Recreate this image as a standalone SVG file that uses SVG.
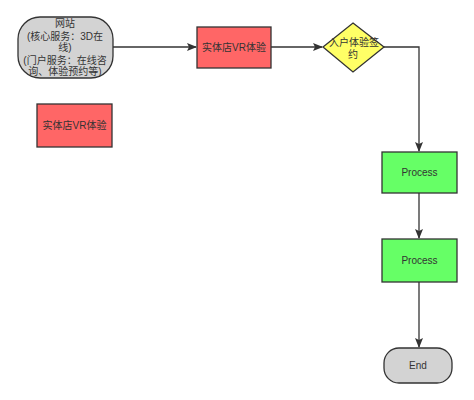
<svg xmlns="http://www.w3.org/2000/svg" width="474" height="400" viewBox="0 0 474 400">
<style>
.n{stroke:#333;stroke-width:1.3}
.t{font-family:"Liberation Sans","Noto Sans CJK SC",sans-serif;font-size:10px;fill:#333;text-anchor:middle}
.c{fill:none;stroke:#333;stroke-width:1.3}
</style>
<defs><marker id="a" markerWidth="10" markerHeight="8" refX="9" refY="4" orient="auto" markerUnits="userSpaceOnUse"><path d="M0,0 L10,4 L0,8 L2,4 z" fill="#333"/></marker></defs>
<rect width="474" height="400" fill="#fff"/>
<g id="connectors">
<path class="c" d="M113,47 H196" marker-end="url(#a)"/>
<path class="c" d="M271,47 H322" marker-end="url(#a)"/>
<path class="c" d="M384,47 H419 V151" marker-end="url(#a)"/>
<path class="c" d="M419,193 V238" marker-end="url(#a)"/>
<path class="c" d="M419,282 V347" marker-end="url(#a)"/>
</g>
<g id="website"><rect class="n" x="18" y="17" width="95" height="61" rx="22" fill="#d3d3d3"/>
<text class="t" x="65" y="27">网站</text>
<text class="t" x="65" y="40">(核心服务：3D在</text>
<text class="t" x="65" y="51">线)</text>
<text class="t" x="65" y="64">(门户服务：在线咨</text>
<text class="t" x="65" y="75">询、体验预约等)</text></g>
<g id="vr1"><rect class="n" x="197" y="27" width="74" height="41" fill="#ff6666"/><text class="t" x="234" y="51">实体店VR体验</text></g>
<g id="vr2"><rect class="n" x="37" y="104" width="75" height="43" fill="#ff6666"/><text class="t" x="74.5" y="129">实体店VR体验</text></g>
<g id="decision"><polygon class="n" points="353,23 384,47 353,72 323,47" fill="#ffff66"/><text class="t" x="354" y="46">入户体验签</text><text class="t" x="353" y="58">约</text></g>
<g id="process1"><rect class="n" x="382" y="152" width="75" height="41" fill="#66ff66"/><text class="t" x="419.5" y="176">Process</text></g>
<g id="process2"><rect class="n" x="382" y="239" width="75" height="43" fill="#66ff66"/><text class="t" x="419.5" y="264">Process</text></g>
<g id="end"><rect class="n" x="384" y="348" width="68" height="35" rx="15" fill="#d3d3d3"/><text class="t" x="418" y="369">End</text></g>
</svg>
